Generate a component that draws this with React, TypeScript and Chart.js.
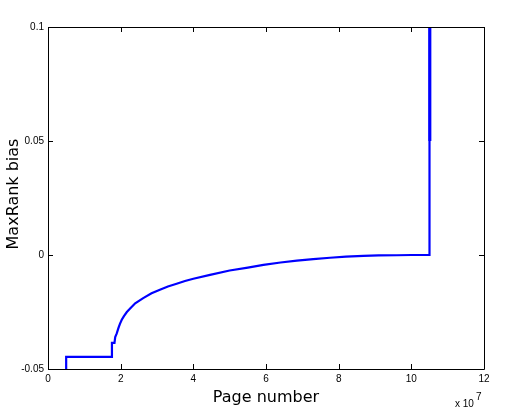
import React, { useEffect, useRef } from "react";
import Chart from "chart.js/auto";

// Page number in units of 1e7
const pageNumbers = [
  0.5, 0.5, 1.76, 1.76, 1.83, 1.85, 1.89, 1.94, 1.98, 2.03, 2.09, 2.17, 2.26, 2.4, 2.62, 2.85,
  3.08, 3.3, 3.54, 3.77, 4.0, 4.46, 5.0, 5.5, 5.93, 6.4, 6.85, 7.3, 7.76, 8.2, 8.68, 9.1, 9.6,
  10.0, 10.5, 10.5,
];
const biasValues = [
  -0.05, -0.0447, -0.0447, -0.0385, -0.0385, -0.036, -0.0345, -0.032, -0.0302, -0.0284,
  -0.0268, -0.025, -0.0235, -0.0212, -0.0189, -0.0168, -0.0152, -0.0138, -0.0126, -0.0114,
  -0.0104, -0.0087, -0.0068, -0.0055, -0.0043, -0.0033, -0.0025, -0.0018, -0.0012, -0.0007,
  -0.0004, -0.0002, -0.0001, 0.0, 0.0, 0.1,
];
const spikeX = [10.51, 10.51];
const spikeY = [0.05, 0.1];

const xTicks = [0, 2, 4, 6, 8, 10, 12];
const yTicks = [-0.05, 0, 0.05, 0.1];
const xTitle = "Page number";
const yTitle = "MaxRank bias";
const exponentBase = "x 10";
const exponent = "7";

export default function App() {
  const ref = useRef<HTMLCanvasElement | null>(null);
  useEffect(() => {
    document.body.style.margin = "0";
    const canvas = ref.current!;
    const boxPlugin = {
      id: "matlabBox",
      afterDraw(chart: any) {
        const { ctx, chartArea: a } = chart;
        const xs = chart.scales.x;
        const ys = chart.scales.y;
        ctx.save();
        ctx.strokeStyle = "#000";
        ctx.lineWidth = 1;
        ctx.beginPath();
        ctx.rect(Math.round(a.left) + 0.5, Math.round(a.top) + 0.5, Math.round(a.right - a.left), Math.round(a.bottom - a.top));
        ctx.stroke();
        const tl = 5;
        ctx.beginPath();
        xTicks.forEach((v) => {
          const px = Math.round(xs.getPixelForValue(v)) + 0.5;
          ctx.moveTo(px, a.bottom);
          ctx.lineTo(px, a.bottom - tl);
          ctx.moveTo(px, a.top);
          ctx.lineTo(px, a.top + tl);
        });
        yTicks.forEach((v) => {
          const py = Math.round(ys.getPixelForValue(v)) + 0.5;
          ctx.moveTo(a.left, py);
          ctx.lineTo(a.left + tl, py);
          ctx.moveTo(a.right, py);
          ctx.lineTo(a.right - tl, py);
        });
        ctx.stroke();
        ctx.fillStyle = "#000";
        ctx.font = "16px 'DejaVu Sans'";
        ctx.textAlign = "center";
        ctx.textBaseline = "middle";
        ctx.fillText(xTitle, (a.left + a.right) / 2, 398);
        ctx.save();
        ctx.translate(14, (a.top + a.bottom) / 2 - 4);
        ctx.rotate(-Math.PI / 2);
        ctx.fillText(yTitle, 0, 0);
        ctx.restore();
        ctx.font = "10px 'Liberation Sans'";
        ctx.textAlign = "left";
        ctx.fillText(exponentBase, 455, 404);
        ctx.fillText(exponent, 476, 397);
        ctx.restore();
      },
    };
    const chart = new Chart(canvas, {
      type: "line",
      data: {
        datasets: [
          {
            data: pageNumbers.map((x, i) => ({ x, y: biasValues[i] })),
            borderColor: "#0000ff",
            borderWidth: 2.2,
            pointRadius: 0,
            tension: 0,
            fill: false,
          },
          {
            data: spikeX.map((x, i) => ({ x, y: spikeY[i] })),
            borderColor: "#0000ff",
            borderWidth: 3,
            pointRadius: 0,
            fill: false,
          },
        ],
      },
      options: {
        animation: false,
        responsive: false,
        layout: { padding: { left: 0, top: 27, right: 37, bottom: 0 } },
        plugins: { legend: { display: false }, tooltip: { enabled: false } },
        scales: {
          x: {
            type: "linear",
            min: 0,
            max: 12,
            afterFit: (s: any) => { s.height = 51; },
            afterBuildTicks: (s: any) => { s.ticks = xTicks.map((v) => ({ value: v })); },
            ticks: {
              color: "#000",
              font: { family: "'Liberation Sans'", size: 10 },
              padding: 4,
              maxRotation: 0,
              autoSkip: false,
              callback: (v: any) => String(v),
            },
            grid: { display: false, drawTicks: false },
            border: { display: false },
          },
          y: {
            type: "linear",
            min: -0.05,
            max: 0.1,
            afterFit: (s: any) => { s.width = 48; },
            afterBuildTicks: (s: any) => { s.ticks = yTicks.map((v) => ({ value: v })); },
            ticks: {
              color: "#000",
              font: { family: "'Liberation Sans'", size: 10 },
              padding: 4,
              autoSkip: false,
              callback: (v: any) => String(Math.round(v * 100) / 100),
            },
            grid: { display: false, drawTicks: false },
            border: { display: false },
          },
        },
      },
      plugins: [boxPlugin],
    });
    return () => chart.destroy();
  }, []);
  return (
    <div style={{ width: 521, height: 420, background: "#fff" }}>
      <canvas ref={ref} width={521} height={420} />
    </div>
  );
}
